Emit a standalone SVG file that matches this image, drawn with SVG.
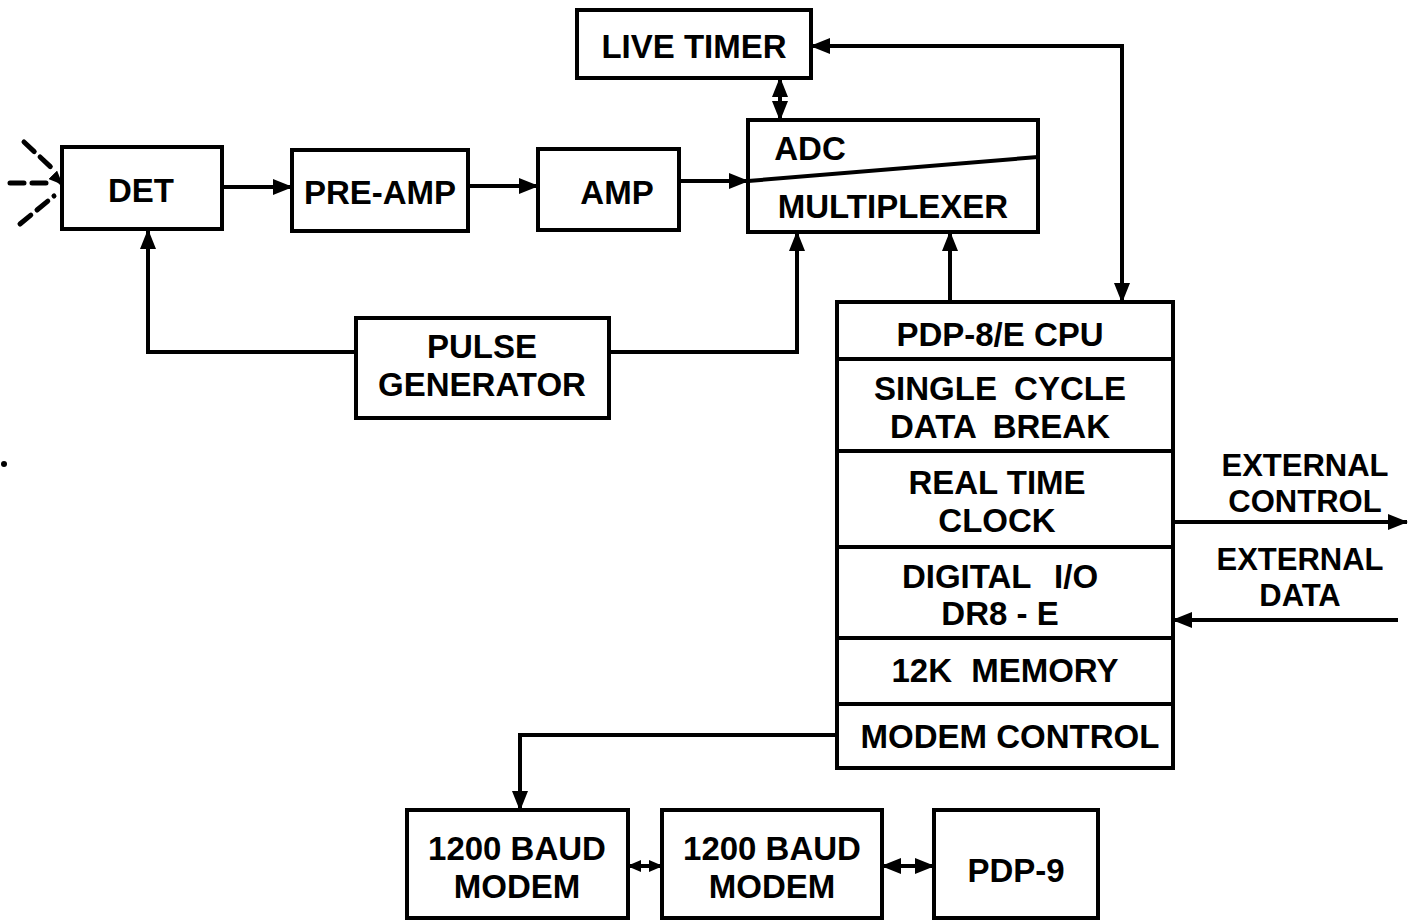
<svg xmlns="http://www.w3.org/2000/svg" width="1409" height="921" viewBox="0 0 1409 921">
<style>
.box{fill:none;stroke:#000;stroke-width:4}
.ln{fill:none;stroke:#000;stroke-width:4}
.t{font-family:"Liberation Sans",Arial,sans-serif;font-weight:bold;font-size:33px;fill:#000;text-anchor:middle}
.s{font-size:31px}
.ray{stroke:#000;stroke-width:5;stroke-dasharray:14 8;stroke-linecap:round}
</style>
<defs>
<marker id="ah" viewBox="0 0 20 16" refX="19" refY="8" markerWidth="20" markerHeight="16" markerUnits="userSpaceOnUse" orient="auto-start-reverse">
<path d="M0,0 L20,8 L0,16 Z" fill="#000"/>
</marker>
<marker id="as" viewBox="0 0 14 12" refX="13" refY="6" markerWidth="14" markerHeight="12" markerUnits="userSpaceOnUse" orient="auto-start-reverse">
<path d="M0,0 L14,6 L0,12 Z" fill="#000"/>
</marker>
</defs>
<rect width="1409" height="921" fill="#fff"/>

<g id="connectors">
<line class="ray" x1="24" y1="142" x2="54" y2="170"/>
<line class="ray" x1="10" y1="183" x2="54" y2="183"/>
<line class="ray" x1="20" y1="224" x2="54" y2="196"/>
<line class="ln" x1="56" y1="178" x2="62" y2="184" marker-end="url(#as)"/>
<line class="ln" x1="222" y1="187" x2="292" y2="187" marker-end="url(#ah)"/>
<line class="ln" x1="468" y1="186" x2="538" y2="186" marker-end="url(#ah)"/>
<line class="ln" x1="679" y1="181" x2="748" y2="181" marker-end="url(#ah)"/>
<line class="ln" x1="780" y1="78" x2="780" y2="120" marker-start="url(#ah)" marker-end="url(#ah)"/>
<polyline class="ln" points="811,46 1122,46 1122,302" marker-start="url(#ah)" marker-end="url(#ah)"/>
<line class="ln" x1="950" y1="302" x2="950" y2="232" marker-end="url(#ah)"/>
<polyline class="ln" points="356,352 148,352 148,230" marker-end="url(#ah)"/>
<polyline class="ln" points="609,352 797,352 797,232" marker-end="url(#ah)"/>
<line class="ln" x1="1173" y1="522" x2="1407" y2="522" marker-end="url(#ah)"/>
<line class="ln" x1="1398" y1="620" x2="1173" y2="620" marker-end="url(#ah)"/>
<polyline class="ln" points="836,735 520,735 520,810" marker-end="url(#ah)"/>
<line class="ln" x1="628" y1="866" x2="662" y2="866" marker-start="url(#as)" marker-end="url(#as)"/>
<line class="ln" x1="882" y1="866" x2="934" y2="866" marker-start="url(#ah)" marker-end="url(#ah)"/>
</g>

<g id="det">
<rect class="box" x="62" y="147" width="160" height="82"/>
<text class="t" x="141" y="202">DET</text>
</g>
<g id="preamp">
<rect class="box" x="292" y="150" width="176" height="81"/>
<text class="t" x="380" y="204">PRE-AMP</text>
</g>
<g id="amp">
<rect class="box" x="538" y="149" width="141" height="81"/>
<text class="t" x="617" y="204">AMP</text>
</g>
<g id="live-timer">
<rect class="box" x="577" y="10" width="234" height="68"/>
<text class="t" x="694" y="58">LIVE TIMER</text>
</g>
<g id="adc-mux">
<rect class="box" x="748" y="120" width="290" height="112"/>
<line class="ln" x1="748" y1="181" x2="1038" y2="157"/>
<text class="t" x="810" y="160">ADC</text>
<text class="t" x="893" y="218">MULTIPLEXER</text>
</g>
<g id="pulse-generator">
<rect class="box" x="356" y="318" width="253" height="100"/>
<text class="t" x="482" y="358">PULSE</text>
<text class="t" x="482" y="396">GENERATOR</text>
</g>
<g id="pdp8">
<rect class="box" x="837" y="302" width="336" height="466"/>
<line class="ln" x1="837" y1="359" x2="1173" y2="359"/>
<line class="ln" x1="837" y1="451" x2="1173" y2="451"/>
<line class="ln" x1="837" y1="547" x2="1173" y2="547"/>
<line class="ln" x1="837" y1="638" x2="1173" y2="638"/>
<line class="ln" x1="837" y1="704" x2="1173" y2="704"/>
<text class="t" x="1000" y="346">PDP-8/E CPU</text>
<text class="t" x="1000" y="400" word-spacing="8">SINGLE CYCLE</text>
<text class="t" x="1000" y="438" word-spacing="8">DATA BREAK</text>
<text class="t" x="997" y="494">REAL TIME</text>
<text class="t" x="997" y="532">CLOCK</text>
<text class="t" x="1000" y="588" word-spacing="14">DIGITAL I/O</text>
<text class="t" x="1000" y="625">DR8 - E</text>
<text class="t" x="1005" y="682" word-spacing="10">12K MEMORY</text>
<text class="t" x="1010" y="748">MODEM CONTROL</text>
</g>
<g id="external-control">
<text class="t s" x="1305" y="476">EXTERNAL</text>
<text class="t s" x="1305" y="512">CONTROL</text>
</g>
<g id="external-data">
<text class="t s" x="1300" y="570">EXTERNAL</text>
<text class="t s" x="1300" y="606">DATA</text>
</g>
<g id="modem1">
<rect class="box" x="407" y="810" width="221" height="108"/>
<text class="t" x="517" y="860">1200 BAUD</text>
<text class="t" x="517" y="898">MODEM</text>
</g>
<g id="modem2">
<rect class="box" x="662" y="810" width="220" height="108"/>
<text class="t" x="772" y="860">1200 BAUD</text>
<text class="t" x="772" y="898">MODEM</text>
</g>
<g id="pdp9">
<rect class="box" x="934" y="810" width="164" height="108"/>
<text class="t" x="1016" y="882">PDP-9</text>
</g>
<circle cx="4" cy="464" r="3" fill="#000"/>
</svg>
